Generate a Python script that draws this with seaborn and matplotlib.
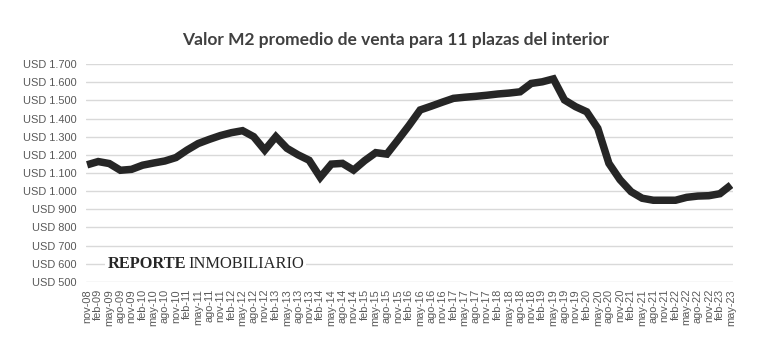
import matplotlib
matplotlib.use("Agg")
import matplotlib.pyplot as plt
import seaborn as sns
import pandas as pd

# quarterly labels nov-08 .. may-23
periods = [
    "nov-08",
    "feb-09", "may-09", "ago-09", "nov-09",
    "feb-10", "may-10", "ago-10", "nov-10",
    "feb-11", "may-11", "ago-11", "nov-11",
    "feb-12", "may-12", "ago-12", "nov-12",
    "feb-13", "may-13", "ago-13", "nov-13",
    "feb-14", "may-14", "ago-14", "nov-14",
    "feb-15", "may-15", "ago-15", "nov-15",
    "feb-16", "may-16", "ago-16", "nov-16",
    "feb-17", "may-17", "ago-17", "nov-17",
    "feb-18", "may-18", "ago-18", "nov-18",
    "feb-19", "may-19", "ago-19", "nov-19",
    "feb-20", "may-20", "ago-20", "nov-20",
    "feb-21", "may-21", "ago-21", "nov-21",
    "feb-22", "may-22", "ago-22", "nov-22",
    "feb-23", "may-23",
]

valor_m2 = [
    1145,
    1163, 1152, 1115, 1120,
    1143, 1155, 1166, 1185,
    1226, 1262, 1285, 1306,
    1322, 1333, 1300, 1226,
    1300, 1236, 1200, 1170,
    1076, 1149, 1153, 1116,
    1168, 1212, 1204, 1282,
    1362, 1447, 1468, 1490,
    1511, 1517, 1522, 1528,
    1535, 1540, 1547, 1593,
    1602, 1618, 1502, 1465,
    1437, 1346, 1153, 1063,
    997, 961, 950, 950,
    950, 966, 973, 975,
    986, 1034,
]

y_ticks = list(range(500, 1800, 100))
y_labels = ["USD " + f"{v:,}".replace(",", ".") for v in y_ticks]

df = pd.DataFrame({"periodo": periods, "valor": valor_m2})
df["idx"] = range(len(df))

sns.set_style("white")
plt.rcParams["font.family"] = ["Liberation Sans", "DejaVu Sans"]

fig = plt.figure(figsize=(7.63, 3.56), dpi=100)
ax = fig.add_axes([0.1127, 0.2079, 0.8483, 0.6123])

sns.lineplot(data=df, x="idx", y="valor", color="#262626", linewidth=5.4,
             solid_joinstyle="miter", solid_capstyle="butt", ax=ax)

ax.set_ylim(500, 1700)
ax.set_xlim(-0.1, 58.2)
ax.set_yticks(y_ticks)
ax.set_yticklabels(y_labels)
ax.set_xticks(df["idx"])
ax.set_xticklabels(periods, rotation=90)
ax.tick_params(axis="y", labelsize=7.9, colors="#595959", length=0, pad=7)
ax.tick_params(axis="x", labelsize=7.9, colors="#595959", length=0, pad=5)
ax.set_xlabel("")
ax.set_ylabel("")
ax.grid(axis="y", color="#d9d9d9", linewidth=1.0)
ax.set_axisbelow(True)
sns.despine(ax=ax, left=True, bottom=True)

fig.text(0.518, 0.888, "Valor M2 promedio de venta para 11 plazas del interior",
         ha="center", va="center", fontsize=12.5, fontweight="bold",
         color="#404040", family=["Lato", "DejaVu Sans"])

# watermark
serif = ["Liberation Serif", "DejaVu Serif"]
wm = ax.text(0.033, 0.083, "REPORTE", transform=ax.transAxes, ha="left", va="center",
             fontsize=11.8, fontweight="bold", color="#262626", family=serif,
             bbox=dict(facecolor="white", edgecolor="none", pad=2))
ax.annotate("INMOBILIARIO", xy=(1, 0.5), xycoords=wm, xytext=(1.5, 0),
            textcoords="offset points", ha="left", va="center",
            fontsize=11.8, color="#262626", family=serif,
            bbox=dict(facecolor="white", edgecolor="none", pad=2))

fig.savefig("out.png", dpi=100)
